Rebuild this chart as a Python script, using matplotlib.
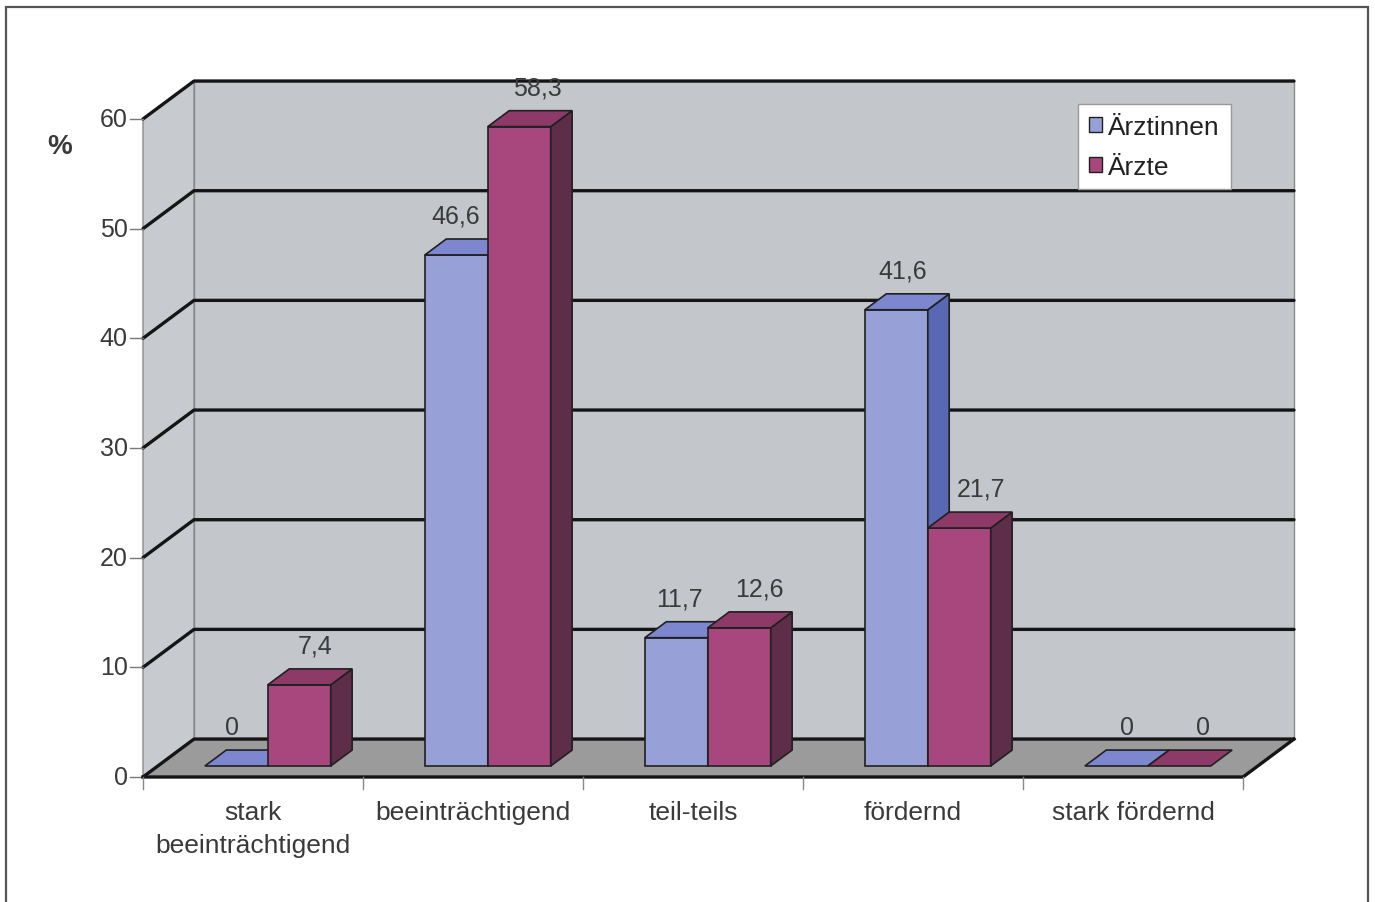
import matplotlib
matplotlib.use("Agg")
import matplotlib.pyplot as plt
from matplotlib.patches import Polygon, Rectangle, Patch

plt.rcParams['font.family'] = ['Liberation Sans', 'DejaVu Sans']

# Daten
categories = ['stark\nbeeinträchtigend', 'beeinträchtigend', 'teil-teils', 'fördernd', 'stark fördernd']
series_names = ['Ärztinnen', 'Ärzte']
aerztinnen = [0, 46.6, 11.7, 41.6, 0]
aerzte = [7.4, 58.3, 12.6, 21.7, 0]
y_ticks = [0, 10, 20, 30, 40, 50, 60]

# Farben (Front, Deckel, Seite)
blue = ('#97a1d8', '#7c87cf', '#5868b2')
red = ('#a7477d', '#8d3a69', '#5d2d4a')
wall = '#c3c7cb'
side_wall = '#c7cbcf'
floor = '#9b9b9b'
txt = '#3a3a3a'

# Pseudo-3D: Tiefenversatz in Datenkoordinaten
DX = 51 / 220
DY = 3.46
YMAX = 60
n = len(categories)
d0, d1 = 0.29, 0.71   # Tiefe der Balken (vorne/hinten)
bw = 0.286            # Balkenbreite


def p(x, y, d):
    return (x + d * DX, y + d * DY)


fig = plt.figure(figsize=(13.75, 9.03), dpi=100)
ax = fig.add_axes([0, 0, 1, 1])
ax.set_xlim(-143 / 220, (1375 - 143) / 220)
ax.set_ylim(-(903 - 778) / 10.967, 778 / 10.967)
ax.axis('off')

# Rahmen um das Bild
fig.patches.append(Rectangle((6 / 1375, -0.02), 1362 / 1375, 1 - 8 / 903 + 0.02,
                             transform=fig.transFigure, fill=False,
                             edgecolor='#555555', lw=1.6))

# Waende und Boden
ax.add_patch(Polygon([p(0, 0, 1), p(n, 0, 1), p(n, YMAX, 1), p(0, YMAX, 1)],
                     closed=True, facecolor=wall, edgecolor='#8a8a8a', lw=1, zorder=1))
ax.add_patch(Polygon([p(0, 0, 0), p(0, 0, 1), p(0, YMAX, 1), p(0, YMAX, 0)],
                     closed=True, facecolor=side_wall, edgecolor='#8a8a8a', lw=1, zorder=1))
ax.add_patch(Polygon([p(0, 0, 0), p(n, 0, 0), p(n, 0, 1), p(0, 0, 1)],
                     closed=True, facecolor=floor, edgecolor='none', zorder=1))

# Gitterlinien auf Rueck- und Seitenwand
for t in y_ticks:
    xs = [0, DX, n + DX]
    ys = [t, t + DY, t + DY]
    ax.plot(xs, ys, color='#151515', lw=2.4, zorder=2, solid_capstyle='round')
    ax.plot([-0.06, 0], [t, t], color='#777777', lw=1, zorder=2)
    ax.text(-0.07, t, str(t), ha='right', va='center', fontsize=18, color=txt)

# Bodenkanten
ax.plot([0, n, n + DX], [0, 0, DY], color='#151515', lw=2.4, zorder=2)

# Kategorie-Ticks unten
for i in range(n + 1):
    ax.plot([i, i], [0, -1.1], color='#888888', lw=1, zorder=2)

ax.text(-0.38, 57.5, '%', ha='center', va='center', fontsize=20, fontweight='bold', color=txt)


def bar3d(x0, h, cols, shift):
    front, top, side = cols
    x1 = x0 + bw
    kw = dict(closed=True, edgecolor='#202020', lw=1.2, zorder=3)
    if h > 0:
        ax.add_patch(Polygon([p(x0, 0, d0), p(x1, 0, d0), p(x1, h, d0), p(x0, h, d0)],
                             facecolor=front, **kw))
        ax.add_patch(Polygon([p(x1, 0, d0), p(x1, 0, d1), p(x1, h, d1), p(x1, h, d0)],
                             facecolor=side, **kw))
    ax.add_patch(Polygon([p(x0, h, d0), p(x1, h, d0), p(x1, h, d1), p(x0, h, d1)],
                         facecolor=top, **kw))
    lx, ly = p(x0 + bw / 2, h, d0)
    ax.text(lx + shift, ly + 3.6, f'{h:g}'.replace('.', ','), ha='center', va='center',
            fontsize=18, color=txt, zorder=4)


for i in range(n):
    c = i + 0.5
    bar3d(c - bw, aerztinnen[i], blue, (-4 + 3.6 * i) / 220)
    bar3d(c, aerzte[i], red, (16 + 2 * i) / 220)
    ax.text(c, -2.1, categories[i], ha='center', va='top', fontsize=19,
            color=txt, linespacing=1.45)

handles = [Patch(facecolor=blue[0], edgecolor='#202020'),
           Patch(facecolor=red[0], edgecolor='#202020')]
leg = ax.legend(handles, series_names, loc='upper left',
                bbox_to_anchor=(1078 / 1375, 1 - 105 / 903), bbox_transform=fig.transFigure,
                fontsize=19, frameon=True, fancybox=False, framealpha=1,
                handlelength=0.5, handleheight=0.5, handletextpad=0.25,
                labelspacing=0.62, borderpad=0.4, borderaxespad=0)
leg.get_frame().set_edgecolor('#999999')
leg.get_frame().set_linewidth(1)
for t in leg.get_texts():
    t.set_color('#222222')

plt.savefig('out.png', dpi=100)
